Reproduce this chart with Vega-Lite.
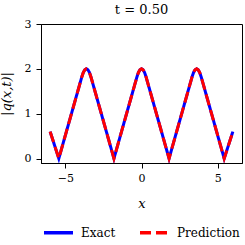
{
  "$schema": "https://vega.github.io/schema/vega-lite/v6.json",
  "width": 201,
  "height": 139,
  "autosize": {"type": "none"},
  "padding": {"left": 41, "top": 24, "right": 3, "bottom": 82},
  "background": "white",
  "config": {
    "view": {"stroke": "black", "strokeWidth": 1},
    "font": "DejaVu Serif",
    "axis": {
      "grid": false,
      "domainColor": "black",
      "tickColor": "black",
      "labelColor": "black",
      "titleColor": "black",
      "labelFont": "DejaVu Serif",
      "titleFont": "DejaVu Serif",
      "labelFontSize": 11,
      "titleFontSize": 13,
      "titleFontWeight": "normal",
      "tickSize": 5,
      "domainWidth": 1,
      "tickWidth": 1
    },
    "legend": {
      "labelFont": "DejaVu Serif",
      "labelFontSize": 12,
      "labelColor": "black"
    },
    "title": {"font": "DejaVu Serif", "fontSize": 13, "fontWeight": "normal", "color": "black"}
  },
  "title": {"text": "t = 0.50", "offset": 1},
  "data": {
    "values": [
      {"x": -6.0, "Exact": 0.60, "Prediction": 0.60},
      {"x": -5.43, "Exact": 0.0, "Prediction": 0.0},
      {"x": -3.92, "Exact": 1.82, "Prediction": 1.82},
      {"x": -3.82, "Exact": 1.92, "Prediction": 1.92},
      {"x": -3.72, "Exact": 1.98, "Prediction": 1.98},
      {"x": -3.62, "Exact": 2.0, "Prediction": 2.0},
      {"x": -3.52, "Exact": 1.98, "Prediction": 1.98},
      {"x": -3.42, "Exact": 1.92, "Prediction": 1.92},
      {"x": -3.32, "Exact": 1.82, "Prediction": 1.82},
      {"x": -1.81, "Exact": 0.0, "Prediction": 0.0},
      {"x": -0.30, "Exact": 1.82, "Prediction": 1.82},
      {"x": -0.20, "Exact": 1.92, "Prediction": 1.92},
      {"x": -0.10, "Exact": 1.98, "Prediction": 1.98},
      {"x": 0.0, "Exact": 2.0, "Prediction": 2.0},
      {"x": 0.10, "Exact": 1.98, "Prediction": 1.98},
      {"x": 0.20, "Exact": 1.92, "Prediction": 1.92},
      {"x": 0.30, "Exact": 1.82, "Prediction": 1.82},
      {"x": 1.81, "Exact": 0.0, "Prediction": 0.0},
      {"x": 3.32, "Exact": 1.82, "Prediction": 1.82},
      {"x": 3.42, "Exact": 1.92, "Prediction": 1.92},
      {"x": 3.52, "Exact": 1.98, "Prediction": 1.98},
      {"x": 3.62, "Exact": 2.0, "Prediction": 2.0},
      {"x": 3.72, "Exact": 1.98, "Prediction": 1.98},
      {"x": 3.82, "Exact": 1.92, "Prediction": 1.92},
      {"x": 3.92, "Exact": 1.82, "Prediction": 1.82},
      {"x": 5.43, "Exact": 0.0, "Prediction": 0.0},
      {"x": 6.0, "Exact": 0.60, "Prediction": 0.60}
    ]
  },
  "transform": [{"fold": ["Exact", "Prediction"], "as": ["series", "q"]}],
  "encoding": {
    "x": {
      "field": "x", "type": "quantitative",
      "scale": {"domain": [-6.6, 6.6], "nice": false, "zero": false},
      "axis": {"values": [-5, 0, 5], "title": "x", "titleFontStyle": "italic", "labelPadding": 4, "titlePadding": 14}
    },
    "y": {
      "field": "q", "type": "quantitative",
      "scale": {"domain": [-0.1, 3], "nice": false, "zero": false},
      "axis": {"values": [0, 1, 2, 3], "title": "|q(x,t)|", "titleFontStyle": "italic", "labelPadding": 5, "titlePadding": 11}
    },
    "color": {
      "field": "series", "type": "nominal",
      "scale": {"domain": ["Exact", "Prediction"], "range": ["#0000ff", "#ff0000"]},
      "legend": {
        "title": null, "orient": "none", "direction": "horizontal",
        "legendX": 1, "legendY": 192, "padding": 0,
        "symbolType": "stroke", "symbolSize": 841, "symbolStrokeWidth": 3.5,
        "labelOffset": 6, "columnPadding": 17
      }
    },
    "strokeDash": {
      "field": "series", "type": "nominal",
      "scale": {"domain": ["Exact", "Prediction"], "range": [[1, 0], [11, 5]]},
      "legend": {
        "title": null, "orient": "none", "direction": "horizontal",
        "legendX": 1, "legendY": 192, "padding": 0,
        "symbolType": "stroke", "symbolSize": 841, "symbolStrokeWidth": 3.5,
        "labelOffset": 6, "columnPadding": 17
      }
    }
  },
  "layer": [
    {
      "transform": [{"filter": "datum.series === 'Exact'"}],
      "mark": {"type": "line", "strokeWidth": 3, "strokeCap": "butt", "clip": true}
    },
    {
      "transform": [{"filter": "datum.series === 'Prediction'"}],
      "mark": {"type": "line", "strokeWidth": 3, "strokeCap": "butt", "clip": true}
    }
  ]
}
